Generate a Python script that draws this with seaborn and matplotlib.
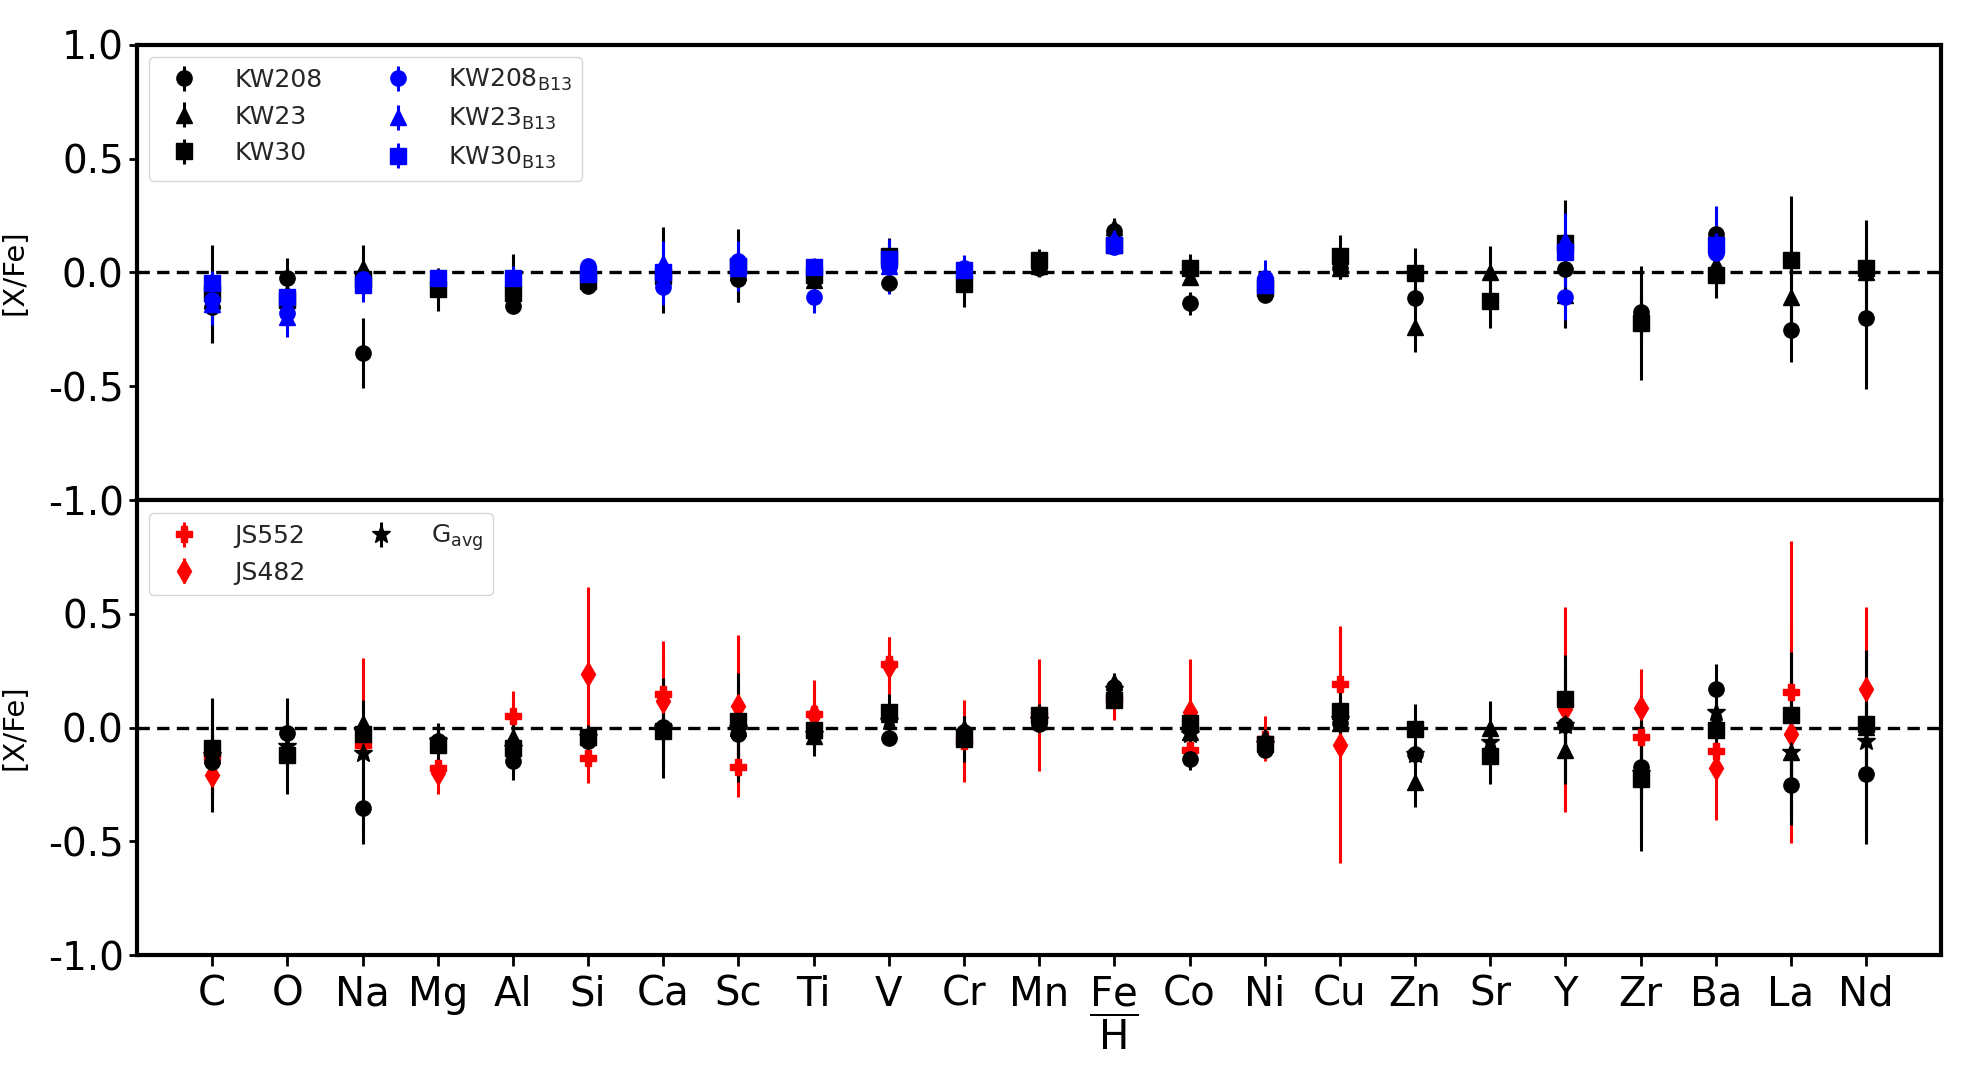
import numpy as np
import matplotlib
matplotlib.use("Agg")
import matplotlib.pyplot as plt
import seaborn as sns

nan = np.nan

# element labels along the x axis
elements = ["C", "O", "Na", "Mg", "Al", "Si", "Ca", "Sc", "Ti", "V", "Cr", "Mn",
            r"$\dfrac{Fe}{H}$", "Co", "Ni", "Cu", "Zn", "Sr", "Y", "Zr", "Ba", "La", "Nd"]

# this work (black)
kw208 = [-0.15, -0.025, -0.355, -0.06, -0.148, -0.06, 0.005, -0.03, -0.03, -0.045, -0.02, 0.018,
         0.18, -0.136, -0.10, 0.02, -0.114, nan, 0.013, -0.175, 0.168, -0.254, -0.202]
kw208_err = [0.16, 0.09, 0.155, 0.05, 0.03, 0.03, 0.05, 0.10, 0.05, 0.03, 0.05, 0.03,
             0.04, 0.05, 0.03, 0.05, 0.05, nan, 0.10, 0.15, 0.11, 0.14, 0.31]
kw23 = [-0.12, -0.09, 0.02, -0.05, -0.04, -0.03, 0.01, 0.0, -0.035, 0.06, 0.0, 0.03,
        0.20, -0.02, -0.04, 0.02, -0.24, 0.0, -0.10, -0.19, 0.035, -0.107, 0.003]
kw23_err = [0.08, 0.05, 0.10, 0.05, 0.12, 0.04, 0.19, 0.05, 0.09, 0.05, 0.05, 0.05,
            0.04, 0.03, 0.03, 0.05, 0.11, 0.115, 0.146, 0.10, 0.05, 0.10, 0.05]
kw30 = [-0.09, -0.12, -0.03, -0.075, -0.09, -0.04, -0.015, 0.03, -0.01, 0.07, -0.05, 0.054,
        0.12, 0.02, -0.07, 0.072, -0.004, -0.126, 0.128, -0.224, -0.012, 0.054, 0.018]
kw30_err = [0.21, 0.06, 0.05, 0.095, 0.06, 0.03, 0.05, 0.16, 0.05, 0.08, 0.10, 0.05,
            0.03, 0.06, 0.03, 0.09, 0.11, 0.12, 0.19, 0.25, 0.10, 0.28, 0.21]

# B13 literature values (blue)
kw208_b13 = [-0.12, -0.18, -0.03, nan, nan, 0.03, -0.063, 0.05, -0.11, 0.025, 0.018, nan,
             0.11, nan, -0.026, nan, nan, nan, -0.11, nan, 0.084, nan, nan]
kw208_b13_err = [0.05, 0.05, 0.05, nan, nan, 0.03, 0.08, 0.05, 0.07, 0.12, 0.06, nan,
                 0.03, nan, 0.08, nan, nan, nan, 0.10, nan, 0.05, nan, nan]
kw23_b13 = [-0.14, -0.195, nan, nan, nan, 0.01, 0.04, 0.02, nan, 0.03, nan, nan,
            0.15, nan, -0.04, nan, nan, nan, 0.142, nan, 0.14, nan, nan]
kw23_b13_err = [0.09, 0.09, nan, nan, nan, 0.03, 0.10, 0.05, nan, 0.05, nan, nan,
                0.03, nan, 0.05, nan, nan, nan, 0.12, nan, 0.15, nan, nan]
kw30_b13 = [-0.045, -0.107, -0.055, -0.026, -0.025, -0.005, 0.003, 0.03, 0.025, 0.06, 0.01, nan,
            0.12, nan, -0.056, nan, nan, nan, 0.09, nan, 0.12, nan, nan]
kw30_b13_err = [0.05, 0.05, 0.075, 0.04, 0.055, 0.03, 0.05, 0.11, 0.04, 0.075, 0.04, nan,
                0.03, nan, 0.04, nan, nan, nan, 0.06, nan, 0.05, nan, nan]

# comparison stars (red) and group average
js552 = [-0.13, nan, -0.075, -0.177, 0.053, -0.133, 0.15, -0.174, 0.06, 0.28, -0.06, 0.055,
         0.13, -0.097, -0.048, 0.192, nan, nan, nan, -0.041, -0.104, 0.158, nan]
js552_err = [0.08, nan, 0.38, 0.05, 0.11, 0.11, 0.23, 0.13, 0.15, 0.12, 0.18, 0.245,
             0.095, 0.05, 0.10, 0.25, nan, nan, nan, 0.05, 0.10, 0.66, nan]
js482 = [-0.21, nan, nan, -0.20, nan, 0.236, 0.116, 0.097, 0.055, 0.27, nan, nan,
         nan, 0.07, nan, -0.075, nan, nan, 0.08, 0.087, -0.177, -0.026, 0.17]
js482_err = [0.10, nan, nan, 0.09, nan, 0.38, 0.20, 0.31, 0.10, 0.13, nan, nan,
             nan, 0.23, nan, 0.52, nan, nan, 0.45, 0.17, 0.23, 0.48, 0.36]
g_avg = [-0.12, -0.08, -0.11, -0.06, -0.09, -0.04, 0.0, 0.0, -0.03, 0.03, -0.02, 0.035,
         0.17, -0.03, -0.07, 0.04, -0.116, -0.065, 0.013, -0.20, 0.067, -0.107, -0.06]
g_avg_err = [0.25, 0.21, 0.10, 0.05, 0.14, 0.03, 0.22, 0.24, 0.05, 0.05, 0.05, 0.05,
             0.04, 0.05, 0.05, 0.05, 0.05, 0.05, 0.25, 0.34, 0.10, 0.32, 0.40]

ytick_vals = [-1.0, -0.5, 0.0, 0.5, 1.0]
ytick_labels = ["-1.0", "-0.5", "0.0", "0.5", "1.0"]

sns.set_theme(style="ticks")
plt.rcParams["font.family"] = ["DejaVu Sans"]
plt.rcParams["mathtext.default"] = "regular"
plt.rcParams["axes.unicode_minus"] = False

x = np.arange(1, len(elements) + 1)


def draw(ax, y, err, marker, color, label, z_line, z_mark, ms=11):
    c = ax.errorbar(x, y, yerr=err, fmt=marker, color=color, ecolor=color,
                    ms=ms, elinewidth=2.2, capsize=0, label=label, zorder=z_line)
    # markers sit above all the error lines
    c.lines[0].set_zorder(z_mark)
    return c


fig, (ax1, ax2) = plt.subplots(2, 1, figsize=(19.85, 10.65), dpi=100, sharex=True)
fig.subplots_adjust(left=0.069, right=0.978, top=0.958, bottom=0.103, hspace=0)

# top panel: this work vs B13
draw(ax1, kw208, kw208_err, "o", "black", "KW208", 2.0, 3.0)
draw(ax1, kw23, kw23_err, "^", "black", "KW23", 2.01, 3.01)
draw(ax1, kw30, kw30_err, "s", "black", "KW30", 2.02, 3.02)
draw(ax1, kw208_b13, kw208_b13_err, "o", "blue", r"KW208$_{B13}$", 2.1, 3.1)
draw(ax1, kw23_b13, kw23_b13_err, "^", "blue", r"KW23$_{B13}$", 2.11, 3.11)
draw(ax1, kw30_b13, kw30_b13_err, "s", "blue", r"KW30$_{B13}$", 2.12, 3.12)

# bottom panel: this work vs comparison stars
h1 = draw(ax2, js552, js552_err, "P", "red", "JS552", 2.0, 3.0)
h2 = draw(ax2, js482, js482_err, "d", "red", "JS482", 2.01, 3.01, ms=12)
draw(ax2, kw208, kw208_err, "o", "black", None, 2.1, 3.1)
draw(ax2, kw23, kw23_err, "^", "black", None, 2.11, 3.11)
draw(ax2, kw30, kw30_err, "s", "black", None, 2.12, 3.12)
h3 = draw(ax2, g_avg, g_avg_err, "*", "black", r"G$_{avg}$", 2.2, 3.2, ms=14)

for ax in (ax1, ax2):
    ax.axhline(0, color="black", ls="--", lw=2.4, dashes=(3.7, 2.2), zorder=1)
    ax.set_xlim(0, 24)
    ax.set_ylim(-1, 1)
    ax.set_ylabel("[X/Fe]", fontsize=21, labelpad=14, color="black")
    for s in ax.spines.values():
        s.set_linewidth(3)
        s.set_color("black")
    ax.tick_params(axis="y", direction="out", length=6, width=2,
                   labelsize=28, colors="black")

ax1.set_yticks(ytick_vals)
ax1.set_yticklabels(ytick_labels)
ax2.set_yticks(ytick_vals[:-1])
ax2.set_yticklabels(ytick_labels[:-1])

ax1.tick_params(axis="x", bottom=False, labelbottom=False)
ax2.set_xticks(x)
ax2.set_xticklabels(elements)
ax2.tick_params(axis="x", direction="out", length=8, width=2, pad=6,
                labelsize=29, colors="black")

leg_kw = dict(loc="upper left", fontsize=18, frameon=True, fancybox=True,
              edgecolor="0.8", framealpha=0.8, handletextpad=1.0)
ax1.legend(ncol=2, **leg_kw)
ax2.legend(handles=[h1, h2, h3], ncol=2, **leg_kw)

fig.savefig("out.png", dpi=100)
